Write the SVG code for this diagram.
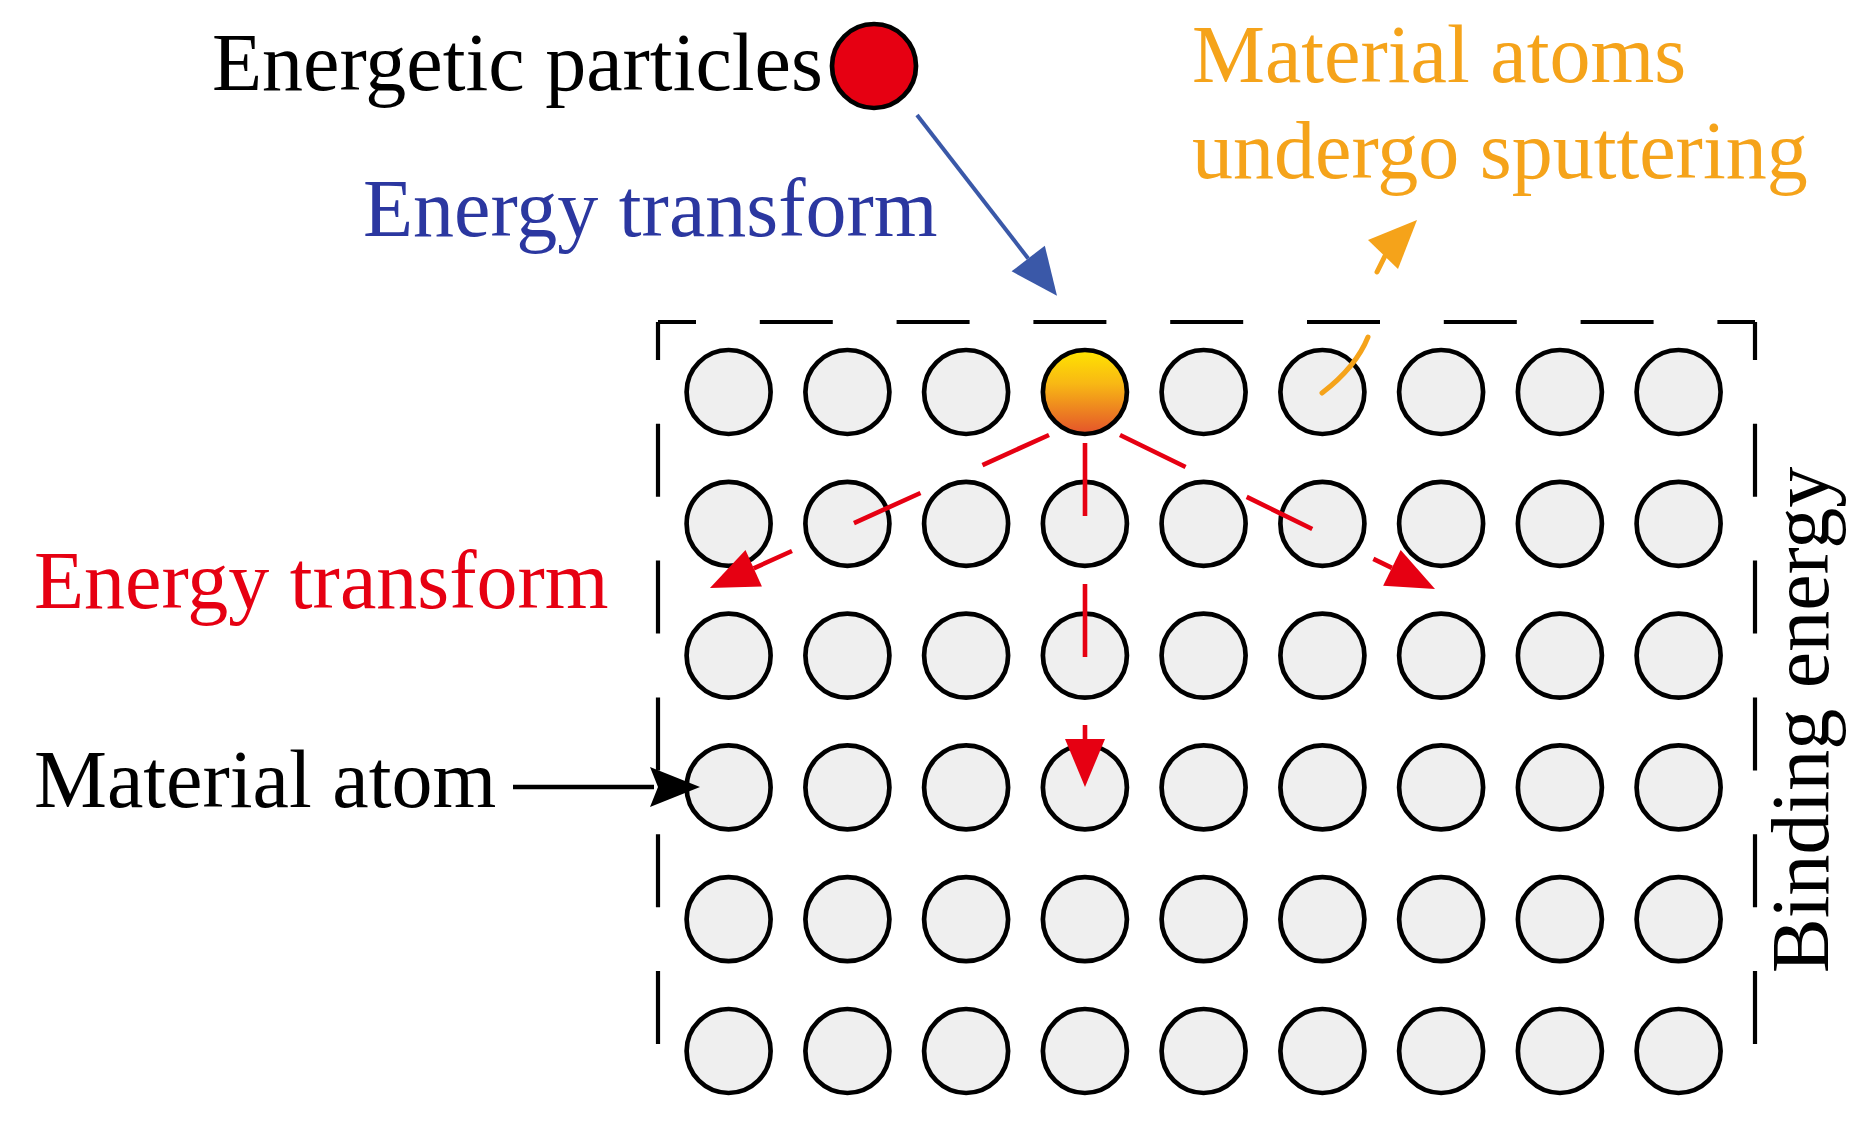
<svg xmlns="http://www.w3.org/2000/svg" width="1862" height="1124" viewBox="0 0 1862 1124">
<style>
.t{font-family:"Liberation Serif","Times New Roman",serif;font-size:82px}
.atom{fill:#efefef;stroke:#000;stroke-width:4.7}
.frame{fill:none;stroke:#000;stroke-width:4.2;stroke-dasharray:73 63.8;stroke-dashoffset:35}
.red{fill:none;stroke:#e60012;stroke-width:4.6;stroke-dasharray:73 68}
</style>
<defs>
<linearGradient id="hot" x1="0" y1="0" x2="0" y2="1">
<stop offset="0" stop-color="#ffe400"/>
<stop offset="0.4" stop-color="#f8b814"/>
<stop offset="1" stop-color="#e4532b"/>
</linearGradient>
<marker id="ahRed" markerUnits="userSpaceOnUse" markerWidth="60" markerHeight="50" refX="0" refY="0" orient="auto" overflow="visible">
<path d="M0,-20 L48,0 L0,20 z" fill="#e60012"/>
</marker>
<marker id="ahBlue" markerUnits="userSpaceOnUse" markerWidth="60" markerHeight="50" refX="0" refY="0" orient="auto" overflow="visible">
<path d="M0,-21 L47,0 L0,21 z" fill="#3a58a8"/>
</marker>
<marker id="ahBlack" markerUnits="userSpaceOnUse" markerWidth="60" markerHeight="50" refX="0" refY="0" orient="auto" overflow="visible">
<path d="M-4,-20 L46,0 L-4,20 L4,0 z" fill="#000"/>
</marker>
</defs>
<rect width="1862" height="1124" fill="#fff"/>

<g id="frame">
<path class="frame" d="M658,322 H1755"/>
<path class="frame" d="M658,322 V1100"/>
<path class="frame" d="M1755,322 V1100"/>
</g>

<g id="lattice">
<g id="row1">
<circle class="atom" cx="728.6" cy="392" r="42"/><circle class="atom" cx="847.4" cy="392" r="42"/><circle class="atom" cx="966.1" cy="392" r="42"/>
<circle class="atom" cx="1203.6" cy="392" r="42"/><circle class="atom" cx="1322.4" cy="392" r="42"/><circle class="atom" cx="1441.1" cy="392" r="42"/><circle class="atom" cx="1559.9" cy="392" r="42"/><circle class="atom" cx="1678.6" cy="392" r="42"/>
</g>
<g id="row2">
<circle class="atom" cx="728.6" cy="523.8" r="42"/><circle class="atom" cx="847.4" cy="523.8" r="42"/><circle class="atom" cx="966.1" cy="523.8" r="42"/><circle class="atom" cx="1084.9" cy="523.8" r="42"/><circle class="atom" cx="1203.6" cy="523.8" r="42"/><circle class="atom" cx="1322.4" cy="523.8" r="42"/><circle class="atom" cx="1441.1" cy="523.8" r="42"/><circle class="atom" cx="1559.9" cy="523.8" r="42"/><circle class="atom" cx="1678.6" cy="523.8" r="42"/>
</g>
<g id="row3">
<circle class="atom" cx="728.6" cy="655.6" r="42"/><circle class="atom" cx="847.4" cy="655.6" r="42"/><circle class="atom" cx="966.1" cy="655.6" r="42"/><circle class="atom" cx="1084.9" cy="655.6" r="42"/><circle class="atom" cx="1203.6" cy="655.6" r="42"/><circle class="atom" cx="1322.4" cy="655.6" r="42"/><circle class="atom" cx="1441.1" cy="655.6" r="42"/><circle class="atom" cx="1559.9" cy="655.6" r="42"/><circle class="atom" cx="1678.6" cy="655.6" r="42"/>
</g>
<g id="row4">
<circle class="atom" cx="728.6" cy="787.4" r="42"/><circle class="atom" cx="847.4" cy="787.4" r="42"/><circle class="atom" cx="966.1" cy="787.4" r="42"/><circle class="atom" cx="1084.9" cy="787.4" r="42"/><circle class="atom" cx="1203.6" cy="787.4" r="42"/><circle class="atom" cx="1322.4" cy="787.4" r="42"/><circle class="atom" cx="1441.1" cy="787.4" r="42"/><circle class="atom" cx="1559.9" cy="787.4" r="42"/><circle class="atom" cx="1678.6" cy="787.4" r="42"/>
</g>
<g id="row5">
<circle class="atom" cx="728.6" cy="919.2" r="42"/><circle class="atom" cx="847.4" cy="919.2" r="42"/><circle class="atom" cx="966.1" cy="919.2" r="42"/><circle class="atom" cx="1084.9" cy="919.2" r="42"/><circle class="atom" cx="1203.6" cy="919.2" r="42"/><circle class="atom" cx="1322.4" cy="919.2" r="42"/><circle class="atom" cx="1441.1" cy="919.2" r="42"/><circle class="atom" cx="1559.9" cy="919.2" r="42"/><circle class="atom" cx="1678.6" cy="919.2" r="42"/>
</g>
<g id="row6">
<circle class="atom" cx="728.6" cy="1051" r="42"/><circle class="atom" cx="847.4" cy="1051" r="42"/><circle class="atom" cx="966.1" cy="1051" r="42"/><circle class="atom" cx="1084.9" cy="1051" r="42"/><circle class="atom" cx="1203.6" cy="1051" r="42"/><circle class="atom" cx="1322.4" cy="1051" r="42"/><circle class="atom" cx="1441.1" cy="1051" r="42"/><circle class="atom" cx="1559.9" cy="1051" r="42"/><circle class="atom" cx="1678.6" cy="1051" r="42"/>
</g>
</g>

<g id="hit-atom">
<circle cx="1084.9" cy="392" r="42" fill="url(#hot)" stroke="#000" stroke-width="4.7"/>
</g>

<g id="particle">
<circle cx="874" cy="66" r="42" fill="#e60012" stroke="#000" stroke-width="4.7"/>
<text class="t" x="212" y="90" fill="#000">Energetic particles</text>
</g>

<g id="labels">
<text class="t" x="363" y="236" fill="#2b37a0">Energy transform</text>
<text class="t" x="34" y="608" fill="#e60012">Energy transform</text>
<text class="t" x="34" y="807" fill="#000">Material atom</text>
<text class="t" x="1192" y="82" fill="#f5a31a">Material atoms</text>
<text class="t" x="1192" y="178" fill="#f5a31a">undergo sputtering</text>
<text class="t" transform="translate(1828,973) rotate(-90)" fill="#000">Binding energy</text>
</g>

<g id="connectors">
<path d="M917,115 L1028.2,258.5" fill="none" stroke="#3a58a8" stroke-width="4" marker-end="url(#ahBlue)"/>
<path class="red" d="M1049,435 L753.7,568.3" marker-end="url(#ahRed)"/>
<path class="red" d="M1085,443 L1085,739" marker-end="url(#ahRed)"/>
<path class="red" d="M1120,435 L1391.9,567.9" marker-end="url(#ahRed)"/>
<path d="M513,787 L654,787" fill="none" stroke="#000" stroke-width="4.6" marker-end="url(#ahBlack)"/>
<path d="M1322,393 Q1356,367 1368,337" fill="none" stroke="#f5a31a" stroke-width="5" stroke-linecap="round"/>
<path d="M1377,272 L1386,254" fill="none" stroke="#f5a31a" stroke-width="5" stroke-linecap="round"/>
<polygon points="1417,220 1368,240 1398,269" fill="#f5a31a"/>
</g>
</svg>
